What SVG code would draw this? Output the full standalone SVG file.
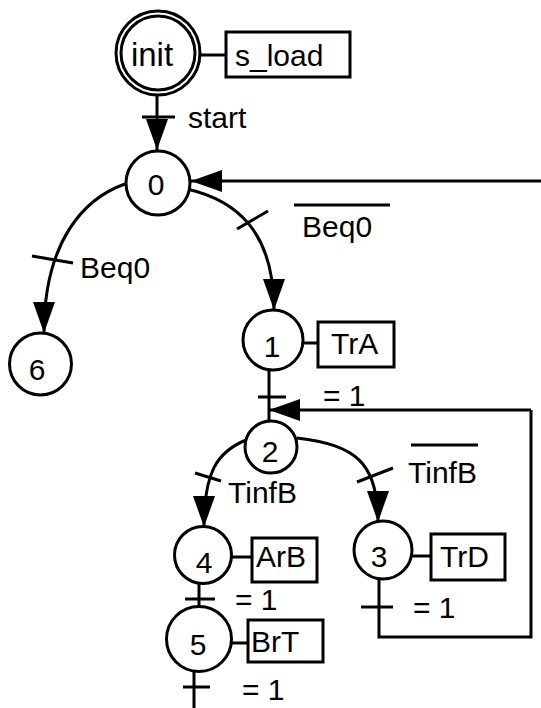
<svg xmlns="http://www.w3.org/2000/svg" width="541" height="708" viewBox="0 0 541 708">
<defs>
<style>
.s{fill:none;stroke:#000;stroke-width:3}
.n{fill:#fff;stroke:#000;stroke-width:3}
.b{fill:#fff;stroke:#000;stroke-width:3}
text{font-family:"Liberation Sans",Arial,sans-serif;font-size:30px;fill:#000}
.c{text-anchor:middle}
</style>
<marker id="ah" markerUnits="userSpaceOnUse" markerWidth="34" markerHeight="24" refX="31" refY="11" orient="auto">
<path d="M0,0 L31,11 L0,22 z" fill="#000"/>
</marker>
</defs>
<rect width="541" height="708" fill="#fff"/>
<g id="connectors">
<path class="s" d="M157,95 V150" marker-end="url(#ah)"/>
<path class="s" d="M142,117 H175"/>
<path class="s" d="M541,181 H191" marker-end="url(#ah)"/>
<path class="s" d="M125,184 C85,198 44,240 44,333" marker-end="url(#ah)"/>
<path class="s" d="M32,256 L73,263"/>
<path class="s" d="M187,189 C235,200 274,230 274,310" marker-end="url(#ah)"/>
<path class="s" d="M237,229 L268,211"/>
<path class="s" d="M269,370 V421"/>
<path class="s" d="M258,397 H286"/>
<path class="s" d="M531,410 H269" marker-end="url(#ah)"/>
<path class="s" d="M246,440 C217,452 204,472 204,527" marker-end="url(#ah)"/>
<path class="s" d="M195,473 L221,481"/>
<path class="s" d="M297,438 C355,445 378,462 378,522" marker-end="url(#ah)"/>
<path class="s" d="M357,482 L393,468"/>
<path class="s" d="M379,579 V637 H531 V410"/>
<path class="s" d="M361,607 H393"/>
<path class="s" d="M199,583 V607"/>
<path class="s" d="M185,599 H215"/>
<path class="s" d="M194,671 V708"/>
<path class="s" d="M183,687 H210"/>
<path class="s" d="M200,55 H226"/>
<path class="s" d="M297,343 H318"/>
<path class="s" d="M231,557 H252"/>
<path class="s" d="M405,556 H431"/>
<path class="s" d="M224,643 H248"/>
</g>
<g id="labels">
<text x="188" y="128">start</text>
<text x="80" y="278">Beq0</text>
<path class="s" d="M294,205 H390"/>
<text x="302" y="237">Beq0</text>
<text x="323" y="406">= 1</text>
<text x="228" y="503">TinfB</text>
<path class="s" d="M411,445 H478"/>
<text x="408" y="483">TinfB</text>
<text x="413" y="618">= 1</text>
<text x="235" y="610">= 1</text>
<text x="242" y="700">= 1</text>
</g>
<g id="node-init">
<circle class="n" cx="158" cy="53" r="42"/>
<circle class="n" cx="158" cy="53" r="37"/>
<text class="c" x="152" y="66" style="font-size:33px">init</text>
</g>
<g id="action-s_load">
<rect class="b" x="226" y="32" width="124" height="45"/>
<text x="235" y="66">s_load</text>
</g>
<g id="node-0">
<circle class="n" cx="158" cy="183" r="32"/>
<text class="c" x="156" y="195">0</text>
</g>
<g id="node-6">
<circle class="n" cx="40.5" cy="364" r="31"/>
<text class="c" x="37" y="380">6</text>
</g>
<g id="node-1">
<circle class="n" cx="273" cy="340" r="30"/>
<text class="c" x="272" y="357">1</text>
</g>
<g id="action-TrA">
<rect class="b" x="318" y="322" width="76" height="45"/>
<text x="331" y="354">TrA</text>
</g>
<g id="node-2">
<circle class="n" cx="271" cy="447" r="26"/>
<text class="c" x="270" y="462">2</text>
</g>
<g id="node-4">
<circle class="n" cx="203" cy="555" r="28.5"/>
<text class="c" x="204" y="573">4</text>
</g>
<g id="action-ArB">
<rect class="b" x="252" y="538" width="65" height="44"/>
<text x="256" y="567">ArB</text>
</g>
<g id="node-3">
<circle class="n" cx="383" cy="550" r="29"/>
<text class="c" x="379" y="567">3</text>
</g>
<g id="action-TrD">
<rect class="b" x="431" y="534" width="74" height="46"/>
<text x="440" y="567">TrD</text>
</g>
<g id="node-5">
<circle class="n" cx="199" cy="639" r="32.5"/>
<text class="c" x="198" y="655">5</text>
</g>
<g id="action-BrT">
<rect class="b" x="248" y="620" width="75" height="42"/>
<text x="251" y="652">BrT</text>
</g>
</svg>
